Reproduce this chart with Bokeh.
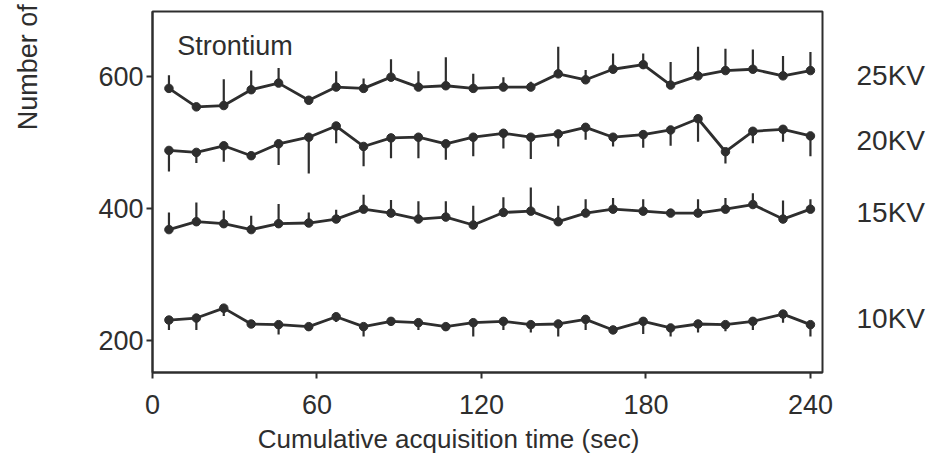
from bokeh.plotting import figure
from bokeh.models import Range1d, Label, FixedTicker, LinearAxis
from bokeh.embed import file_html
from bokeh.resources import INLINE

# ---- data ----
times = [6, 16, 26, 36, 46, 57, 67, 77, 87, 97, 107, 117,
         128, 138, 148, 158, 168, 179, 189, 199, 209, 219, 230, 240]

kv25 = [582, 554, 556, 580, 590, 564, 584, 582, 599, 584, 586, 582,
        584, 584, 604, 595, 611, 618, 587, 601, 609, 611, 601, 609]
err25_up = [20, 0, 40, 29, 23, 0, 24, 15, 27, 24, 43, 22,
            15, 8, 41, 15, 24, 17, 35, 44, 33, 30, 30, 28]

kv20 = [488, 485, 495, 480, 498, 508, 525, 494, 507, 508, 498, 508,
        514, 508, 513, 523, 508, 512, 519, 536, 486, 517, 520, 510]
err20_down = [32, 16, 24, 3, 32, 55, 26, 30, 31, 32, 24, 29,
              23, 33, 19, 19, 14, 20, 24, 35, 18, 18, 19, 31]

kv15 = [368, 380, 377, 368, 377, 378, 384, 399, 393, 384, 387, 375,
        394, 396, 380, 393, 399, 396, 393, 393, 399, 406, 384, 399]
err15_up = [26, 29, 20, 21, 30, 16, 14, 22, 20, 27, 24, 29,
            23, 36, 24, 21, 17, 18, 3, 21, 17, 17, 28, 15]

kv10 = [231, 234, 249, 225, 224, 221, 236, 221, 229, 227, 221, 227,
        229, 224, 225, 232, 216, 229, 219, 225, 224, 229, 240, 224]
err10_down = [15, 18, 12, 6, 15, 4, 8, 15, 3, 11, 5, 21,
              13, 12, 19, 16, 3, 19, 13, 13, 10, 13, 13, 18]

series_names = ["25KV", "20KV", "15KV", "10KV"]
series_label_y = [601, 503, 394, 233]
x_ticks = [0, 60, 120, 180, 240]
y_ticks = [200, 400, 600]
x_title = "Cumulative acquisition time (sec)"
x_title_pos = 108
y_title = "Number of"
y_title_pos = 614
panel_title = "Strontium"

C = "#2e2e2e"
FONT = "Liberation Sans"

p = figure(width=930, height=466, output_backend="svg", toolbar_location=None,
           x_range=Range1d(0, 244.4), y_range=Range1d(151.5, 698.5),
           min_border_left=152, min_border_right=108,
           min_border_top=11, min_border_bottom=94)
p.background_fill_color = "white"
p.border_fill_color = "white"
p.xgrid.visible = False
p.ygrid.visible = False
p.outline_line_color = C
p.outline_line_width = 2
p.outline_line_alpha = 1.0

for ax in (p.xaxis, p.yaxis):
    ax.axis_line_color = C
    ax.axis_line_width = 2
    ax.major_tick_line_color = C
    ax.major_tick_line_width = 2
    ax.minor_tick_line_color = None
    ax.major_tick_in = 0
    ax.major_tick_out = 6
    ax.major_label_text_color = C
    ax.major_label_text_font = FONT
    ax.major_label_text_font_size = "27px"

p.xaxis.ticker = FixedTicker(ticks=x_ticks)
p.yaxis.ticker = FixedTicker(ticks=y_ticks)
p.xaxis.major_label_standoff = 16
p.yaxis.major_label_standoff = 3


def text_axis(ticks, labels, standoff, size, orientation="horizontal"):
    ax = LinearAxis(ticker=FixedTicker(ticks=ticks),
                    major_label_overrides={t: s for t, s in zip(ticks, labels)})
    ax.axis_line_color = None
    ax.major_tick_line_color = None
    ax.minor_tick_line_color = None
    ax.major_tick_in = 0
    ax.major_tick_out = 0
    ax.major_label_standoff = standoff
    ax.major_label_text_color = C
    ax.major_label_text_font = FONT
    ax.major_label_text_font_size = size
    ax.major_label_orientation = orientation
    return ax


# axis title below (offset left, as in the original figure)
p.add_layout(text_axis([x_title_pos], [x_title], 7, "26px"), "below")
# cut-off y title at the top left
p.add_layout(text_axis([y_title_pos], [y_title], 52, "27px", "vertical"), "left")
# series labels on the right
p.add_layout(text_axis(series_label_y, series_names, 34, "28px"), "right")

data = [(kv25, err25_up, 1), (kv20, err20_down, -1),
        (kv15, err15_up, 1), (kv10, err10_down, -1)]
for vals, errs, sgn in data:
    ends = [v + sgn * e for v, e in zip(vals, errs)]
    p.segment(x0=times, y0=vals, x1=times, y1=ends, line_color=C, line_width=2.2)
    p.line(times, vals, line_color=C, line_width=2.8)
    p.scatter(times, vals, size=8.5, fill_color=C, line_color=C)

p.add_layout(Label(x=9, y=646, text=panel_title, text_baseline="middle",
                   text_align="left", text_font=FONT, text_font_size="27px",
                   text_color=C))

open("out.html", "w").write(file_html(p, INLINE))
